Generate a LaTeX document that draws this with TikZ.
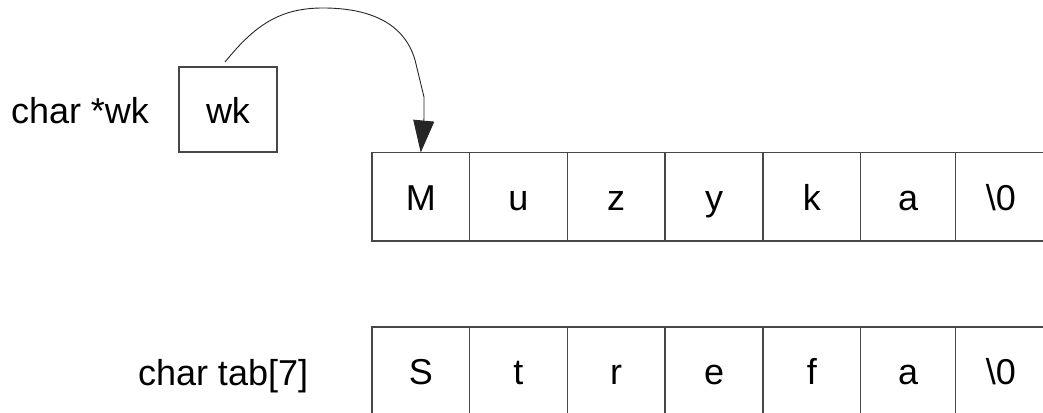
\documentclass[tikz,border=0pt]{standalone}
\usepackage{fontspec}
\setmainfont{Liberation Sans}
\usetikzlibrary{arrows.meta}
\begin{document}
\begin{tikzpicture}[x=1pt,y=-1pt,
  every node/.style={inner sep=0pt,outer sep=0pt,font=\fontsize{36}{43}\selectfont},
  cell/.style={draw=black!72,line width=1.1pt,anchor=north west,text height=27pt,text depth=0pt},
  lbl/.style={anchor=base west,text=black},
  ptr/.style={draw=black!85,line width=0.9pt,-{Triangle[length=32pt,width=21pt]}}]
\useasboundingbox (0,0) rectangle (1043,412);
\clip (0,0) rectangle (1043,412);
% pointer box
\node[cell,minimum width=98pt,minimum height=85pt] (wk) at (179,67) {wk};
\node[lbl] (lwk) at (11,123) {char *wk};
% top row
\node[cell,minimum width=97.5pt,minimum height=88.5pt] (t1) at (372,152.5) {M};
\node[cell,minimum width=97.8pt,minimum height=88.5pt] (t2) at (469.5,152.5) {u};
\node[cell,minimum width=97.7pt,minimum height=88.5pt] (t3) at (567.3,152.5) {z};
\node[cell,minimum width=98pt,minimum height=88.5pt] (t4) at (665,152.5) {y};
\node[cell,minimum width=97.7pt,minimum height=88.5pt] (t5) at (763,152.5) {k};
\node[cell,minimum width=95pt,minimum height=88.5pt] (t6) at (860.7,152.5) {a};
\node[cell,minimum width=90.3pt,minimum height=88.5pt] (t7) at (955.7,152.5) {\textbackslash 0};
% bottom row
\node[lbl] (ltab) at (138,385) {char tab[7]};
\node[cell,minimum width=97.5pt,minimum height=88pt] (b1) at (372,327) {S};
\node[cell,minimum width=97.8pt,minimum height=88pt] (b2) at (469.5,327) {t};
\node[cell,minimum width=97.7pt,minimum height=88pt] (b3) at (567.3,327) {r};
\node[cell,minimum width=98pt,minimum height=88pt] (b4) at (665,327) {e};
\node[cell,minimum width=97.7pt,minimum height=88pt] (b5) at (763,327) {f};
\node[cell,minimum width=95pt,minimum height=88pt] (b6) at (860.7,327) {a};
\node[cell,minimum width=90.3pt,minimum height=88pt] (b7) at (955.7,327) {\textbackslash 0};
% pointer arrow
\coordinate (ws) at (225,62);
\draw[ptr] (ws) .. controls (255,25) and (280,8) .. (323,8)
  .. controls (368,8) and (404,22) .. (415,60) -- (424,97) -- (424,118) -- (t1.north);
\end{tikzpicture}
\end{document}
